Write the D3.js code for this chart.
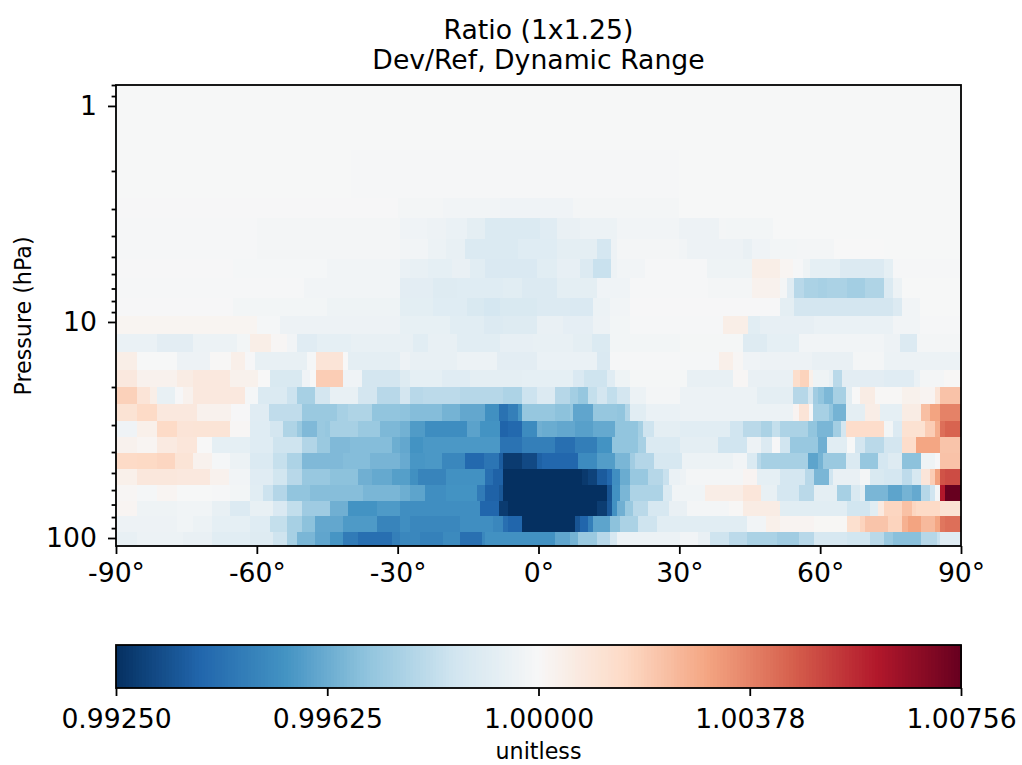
<!DOCTYPE html>
<html><head><meta charset="utf-8">
<script src="https://cdn.jsdelivr.net/npm/d3@7"></script>
<style>html,body{margin:0;background:#fff}svg{display:block}text{font-family:"DejaVu Sans";fill:#000}</style>
</head><body><svg id="c" width="1022" height="765"></svg>
<script>
// Titles and labels
const titleLines = ["Ratio (1x1.25)", "Dev/Ref, Dynamic Range"];
const yLabel = "Pressure (hPa)";
const cbLabel = "unitless";
const latTicks = [-90,-60,-30,0,30,60,90];
const pMajor = [1,10,100];
const pMinor = [0.8,0.9,2,3,4,5,6,7,8,9,20,30,40,50,60,70,80,90];
const cbTicks = [0.9925,0.99625,1.0,1.00378,1.00756];
const cbTickLabels = ["0.99250","0.99625","1.00000","1.00378","1.00756"];
const cmapStops = ["#053061","#2166ac","#4393c3","#92c5de","#d1e5f0","#f7f7f7","#fddbc7","#f4a582","#d6604d","#b2182b","#67001f"];
const vMin = 0.9925, vMid = 1.0, vMax = 1.00756;
// Pressure edges of the rows, top to bottom (hPa)
const pEdges = [0.8,1.6,2.67,3.30,4.13,5.11,6.26,7.74,9.38,11.36,13.77,16.68,20.0,23.97,28.7,34.1,40.4,47.9,56.8,67.4,79.1,93.8,108.9];
// Each row: [latitude where the run ends, (ratio-1)*1e5]
const row00 = [[90,-3]];
const row01 = [[-40,-3],[30,-6],[90,-3]];
const row02 = [[-30,-5],[-20.3,-15],[-8.2,-22],[7.4,-32],[30,-15],[90,-4]];
const row03 = [[-60,-6],[-29.5,-14],[-23.8,-30],[-19.6,-40],[-15.3,-50],[-11.4,-75],[0.3,-110],[3.9,-90],[8.9,-55],[16.7,-45],[30,-22],[38.5,-40],[40,-15],[50,-18],[90,-4]];
const row04 = [[-60,-6],[-29.5,-16],[-23.5,-22],[-19.6,-45],[-15.6,-60],[-4.3,-110],[3.9,-95],[12.4,-75],[15.4,-135],[16.7,-40],[30,-15],[31.6,-22],[43.6,-40],[45.4,-55],[49.3,-32],[55,-20],[63,-15],[73.5,0],[81.3,-2],[90,-4]];
const row05 = [[-65,-5],[-45,-10],[-29.5,-22],[-27.4,-50],[-23.5,-60],[-18.5,-70],[-14.6,-55],[-11.4,-85],[-0.4,-115],[3.9,-85],[8.9,-65],[11.7,-105],[15.4,-170],[16.7,-40],[22.7,-25],[35.8,-8],[45.4,-35],[51.5,50],[54.3,15],[56.4,-8],[57.9,-35],[64.2,-70],[73.5,-105],[75.6,-70],[90,-8]];
const row06 = [[-50,-6],[-29.5,-22],[-22.4,-80],[-17.4,-100],[-7.5,-95],[-3.6,-85],[3.9,-105],[12.4,-75],[19.5,-32],[36.2,-6],[45.4,-14],[51.5,30],[52.9,-15],[54.4,-90],[56.6,-210],[59.6,-240],[61.4,-250],[65.7,-240],[69.6,-260],[73.6,-230],[75.6,-110],[77.4,-45],[90,-4]];
const row07 = [[-65,-5],[-45,-18],[-29.5,-35],[-22.4,-78],[-15.3,-95],[-11.7,-120],[-8.2,-135],[-0.4,-120],[6.7,-105],[11.7,-115],[15.2,-45],[19.5,-22],[51.5,-5],[54.4,-75],[75.6,-140],[77.4,-105],[81.3,-22],[90,-4]];
const row08 = [[-60,18],[-55,-10],[-29.5,-40],[-18.8,-62],[-11.7,-85],[-7.5,-105],[-0.4,-100],[5.3,-55],[11.7,-72],[15.2,-38],[19.5,-20],[39.4,-8],[44.7,50],[47.2,-85],[58.6,-65],[75.6,-50],[81.3,-25],[90,-6]];
const row09 = [[-81.3,-50],[-73.5,-80],[-64.3,-45],[-61.5,-20],[-57,50],[-53.6,10],[-51.5,-25],[-47.2,-90],[-40,-70],[-29.5,-60],[-26.7,-60],[-23.5,-85],[-17.4,-60],[-8.2,-85],[-1.1,-65],[7.4,-60],[11.3,-75],[15.2,-110],[30.15,-20],[43.6,-12],[48.6,-100],[55.4,-70],[73.5,-25],[77,-40],[80.6,-105],[90,-15]];
const row10 = [[-85.6,50],[-77,-4],[-70,-40],[-65.4,5],[-62.5,45],[-60.4,-5],[-49.4,-60],[-47.4,-10],[-41.6,100],[-40.5,0],[-29.5,-75],[-27.4,-40],[-17.4,-60],[-8.9,-45],[-0.4,-80],[12.4,-50],[15.2,-115],[30.15,-8],[38.5,-10],[41.5,45],[43.6,10],[47.2,-30],[58.2,-38],[67,-55],[73.5,-15],[90,-45]];
const row11 = [[-85.6,80],[-77,30],[-73.5,60],[-65.7,80],[-59.7,35],[-57.2,0],[-50.4,-120],[-48.7,-30],[-47.4,0],[-41.6,190],[-37.7,-30],[-29.5,-140],[-27.4,-100],[-20.6,-70],[-14.6,-90],[-3.6,-75],[7.4,-70],[9.6,-115],[14.5,-155],[16.3,-90],[19.5,-35],[31.6,-12],[41.5,-60],[44.7,10],[54.3,-55],[55.6,135],[57.7,175],[58.4,40],[61.8,-35],[62.8,-60],[64.6,-205],[73.5,-80],[79.9,-90],[81.3,-50],[86.3,-15],[90,5]];
const row12 = [[-85.6,180],[-82.8,100],[-81.3,50],[-77.4,-60],[-75.7,-5],[-73.5,30],[-62.5,80],[-59.7,-10],[-53.6,-110],[-51.5,-160],[-47.6,-250],[-44.4,-140],[-38.4,-60],[-34.5,-140],[-29.5,-210],[-27.4,-140],[-24.5,-210],[-16.7,-200],[-7.5,-215],[-3.6,-235],[-0.4,-160],[3.5,-105],[6.7,-215],[8.5,-260],[10.6,-290],[12.4,-180],[14.5,-140],[16.7,-185],[19.5,-140],[23,-45],[30.15,-15],[46.5,-45],[54.3,-75],[57.5,-215],[58.4,-140],[59.6,-265],[60.8,-300],[62.7,-340],[65.5,-250],[66.7,-75],[68.5,0],[71.7,60],[77.4,5],[81.3,35],[84.5,20],[85.5,100],[90,220]];
const row13 = [[-85.6,110],[-81.3,150],[-72.8,80],[-65.4,30],[-61.5,-5],[-57.5,-90],[-50.4,-190],[-43,-280],[-40.5,-250],[-35.5,-230],[-29.5,-300],[-27.4,-305],[-20.6,-325],[-16.7,-355],[-11.4,-390],[-8.5,-460],[-6.4,-560],[-4.3,-515],[-3.6,-440],[3.5,-290],[6.7,-310],[7.4,-290],[11.7,-395],[16.7,-290],[18.4,-300],[19.5,-225],[23,-85],[30.15,-50],[54.3,-45],[55.4,20],[57.7,100],[58.4,-5],[61.8,-250],[62.7,-300],[65.5,-355],[69.6,-75],[72.8,55],[77.4,-70],[81.4,60],[83.4,230],[85.5,305],[90,380]];
const row14 = [[-85.6,-30],[-81.3,40],[-77.1,150],[-73.5,100],[-65.7,105],[-61.5,10],[-57.2,-95],[-54.4,-140],[-51.5,-230],[-50.4,-280],[-47.2,-335],[-45.5,-280],[-44.4,-290],[-38.4,-250],[-33.8,-280],[-29.5,-340],[-27.4,-360],[-24.2,-425],[-15.3,-470],[-12.5,-405],[-8.2,-450],[-6.4,-605],[-3.6,-590],[-0.4,-475],[0.7,-365],[3.9,-375],[7.8,-390],[11.7,-410],[16.3,-385],[21.3,-300],[22.3,-255],[24.5,-155],[30.15,-75],[40.8,-85],[43.6,-150],[47.5,-205],[49.7,-240],[51.5,-180],[53.6,-235],[57.5,-240],[59.3,-300],[62.8,-345],[64.5,-260],[65.5,-140],[73.5,140],[75.6,-20],[77.4,-105],[82.4,115],[84.5,190],[85.5,280],[86.6,420],[90,445]];
const row15 = [[-85.6,30],[-81.3,15],[-77.1,70],[-72.8,90],[-69.6,0],[-61.5,-70],[-56.5,-95],[-50.4,-155],[-47.2,-225],[-44.4,-280],[-40.1,-335],[-31.3,-325],[-29.5,-370],[-27.4,-390],[-24.5,-450],[-8.2,-435],[-3.6,-555],[3.5,-515],[7.8,-570],[12.4,-520],[15.6,-450],[21.3,-300],[23,-250],[30.15,-110],[38.3,-75],[44.4,-150],[47.5,-40],[49.7,-105],[51.5,-5],[53.6,-150],[59.6,-285],[61.4,-365],[65.7,-85],[67.4,-2],[69.6,-140],[73.5,-205],[77.4,-140],[80.4,140],[85.5,300],[90,215]];
const row16 = [[-85.6,150],[-81.3,155],[-77.4,165],[-73.5,105],[-69.6,30],[-65.7,-10],[-61.5,-45],[-56.5,-110],[-53.6,-175],[-50.4,-235],[-41.6,-335],[-35.9,-325],[-29.5,-350],[-27.4,-380],[-24.2,-440],[-20.6,-435],[-15.6,-490],[-11.7,-590],[-8.5,-550],[-7.5,-625],[-3.6,-720],[-0.4,-680],[0.7,-615],[8.5,-595],[12.4,-475],[16.3,-420],[19.5,-345],[20.6,-265],[24.5,-220],[30.5,-125],[41.5,-45],[44.4,-25],[46.6,-110],[47.5,-210],[57.5,-250],[59.6,-400],[60.7,-355],[65.5,-280],[68.5,-110],[72.4,-290],[74.5,-135],[77.4,-100],[81.4,-310],[84.5,-35],[85.5,-5],[90,220]];
const row17 = [[-85.6,40],[-77.1,85],[-70,80],[-66,30],[-61.5,-25],[-56.5,-90],[-53.6,-145],[-50.4,-210],[-44.4,-285],[-38.4,-310],[-35.5,-365],[-31.3,-385],[-27.4,-415],[-25.6,-460],[-19.6,-500],[-11.4,-455],[-9.6,-570],[-7.5,-610],[9.2,-750],[10.6,-725],[12.4,-700],[14.5,-630],[15.6,-590],[17.4,-465],[19.5,-375],[23.4,-285],[26.6,-215],[27.7,-170],[30.15,-50],[31.4,-40],[43.6,-15],[46.5,20],[51.5,-70],[56.8,-135],[58.6,-210],[61.8,-345],[62.8,-150],[68.5,-55],[70.6,-15],[73.5,-120],[77.4,-135],[79.5,-195],[81.4,-125],[83.4,95],[84.5,190],[85.5,310],[86.6,480],[90,495]];
const row18 = [[-85.6,10],[-81.3,-10],[-77.1,15],[-69.6,-2],[-65.7,-8],[-61.5,-18],[-58.6,-85],[-56.5,-160],[-53.6,-220],[-48.7,-300],[-37.3,-320],[-29.5,-345],[-27.4,-370],[-24.2,-400],[-19.6,-465],[-13.2,-450],[-11.4,-530],[-8.5,-610],[-7.5,-640],[14.5,-750],[15.6,-650],[17.4,-455],[19.5,-345],[26.6,-235],[28.4,-110],[35.5,-28],[43.6,55],[47.5,90],[50.7,-60],[55.4,-135],[58.6,-205],[63.5,-75],[66.5,-250],[68.5,-120],[69.6,-75],[74.5,-345],[77.4,-400],[79.5,-355],[81.4,-385],[83.4,-215],[84.5,-150],[85.5,-15],[86.6,605],[90,756]];
const row19 = [[-85.6,15],[-77.1,-35],[-69.6,-28],[-65.7,-60],[-61.5,-105],[-56.5,-60],[-53.6,-115],[-50.4,-185],[-44.4,-270],[-40.5,-365],[-34.5,-450],[-29.5,-430],[-12.5,-465],[-8.5,-600],[-6.4,-720],[12.4,-750],[14.5,-715],[15.6,-640],[16.7,-455],[18.4,-365],[20.2,-280],[23.4,-205],[27.7,-125],[31.6,-55],[40.5,-15],[43.6,5],[51.5,60],[65.7,-85],[70.6,-145],[72.4,-85],[73.5,70],[77.4,165],[79.5,225],[80.4,165],[85.5,150],[90,110]];
const row20 = [[-77.1,-40],[-73.5,-28],[-69.6,-45],[-61.5,-70],[-57.2,-95],[-53.6,-180],[-50.4,-250],[-47.6,-310],[-41.6,-390],[-34.5,-430],[-29.5,-500],[-27.4,-465],[-16.7,-490],[-9.6,-465],[-7.5,-490],[-6.4,-570],[-3.6,-600],[7.8,-750],[8.9,-650],[10.6,-600],[11.7,-515],[15.2,-400],[17.4,-310],[21.3,-240],[25.2,-155],[44.4,-85],[48.5,-25],[51.5,40],[58.6,20],[65.7,8],[68.5,125],[69.6,170],[74.5,215],[77.4,170],[78.8,270],[81.4,305],[84.5,245],[85.5,300],[86.6,405],[90,420]];
const row21 = [[-85.6,-60],[-75.7,-45],[-69.6,-55],[-61.5,-85],[-56.5,-100],[-53.6,-155],[-51.5,-250],[-47.6,-345],[-44.4,-395],[-41.6,-445],[-38.4,-530],[-31.3,-570],[-29.5,-515],[-25.2,-490],[-20.3,-510],[-16.7,-480],[-12.1,-565],[-11.4,-490],[3.5,-455],[6.7,-395],[8.5,-355],[12.4,-280],[15.2,-210],[16.7,-125],[30.15,-45],[34,-22],[36.5,-55],[40.5,-155],[44.4,-200],[50.7,-240],[55.4,-265],[58.6,-210],[65.7,-125],[70.6,-145],[73.5,-205],[75.6,-280],[81.4,-315],[84.8,-215],[85.5,-170],[90,-90]];
const rows = [row00,row01,row02,row03,row04,row05,row06,row07,row08,row09,row10,row11,row12,row13,row14,row15,row16,row17,row18,row19,row20,row21];

const svg = d3.select("#c");
const L=116,R=961,T=85,B=546, CT=645, CB=688;
const x = d3.scaleLinear().domain([-90,90]).range([L,R]);
const y = d3.scaleLog().domain([0.8,108.9]).range([T,B]);
const color = d3.scaleLinear()
  .domain(d3.range(11).map(i => i<=5 ? vMin+(vMid-vMin)*i/5 : vMid+(vMax-vMid)*(i-5)/5))
  .range(cmapStops).interpolate(d3.interpolateRgb);
const ratio = d => 1 + d*1e-5;

const cells = svg.append("g").attr("shape-rendering","crispEdges");
rows.forEach((row,i) => {
  let start = -90;
  row.forEach(([end,d]) => {
    cells.append("rect").attr("x",x(start)).attr("width",x(end)-x(start))
      .attr("y",y(pEdges[i])).attr("height",y(pEdges[i+1])-y(pEdges[i]))
      .attr("fill",color(ratio(d)));
    start = end;
  });
});

const fs = 26.67, sw = 1.8;
function styleAxis(g){
  g.select(".domain").remove();
  g.selectAll("line").attr("stroke","#000").attr("stroke-width",sw);
  g.selectAll("text").attr("font-size",fs).attr("font-family","DejaVu Sans").attr("fill","#000");
}
svg.append("g").attr("transform",`translate(0,${B})`)
  .call(d3.axisBottom(x).tickValues(latTicks).tickSize(8).tickPadding(9).tickFormat(d=>d+"°")).call(styleAxis);
svg.append("g").attr("transform",`translate(${L},0)`)
  .call(d3.axisLeft(y).tickValues(pMajor).tickSize(8).tickPadding(11).tickFormat(d=>d)).call(styleAxis);
svg.append("g").attr("transform",`translate(${L},0)`)
  .call(d3.axisLeft(y).tickValues(pMinor).tickSize(4.4).tickFormat("")).call(styleAxis);
svg.append("rect").attr("x",L).attr("y",T).attr("width",R-L).attr("height",B-T)
  .attr("fill","none").attr("stroke","#000").attr("stroke-width",sw);

// colour bar
const cx = d3.scaleLinear().domain([vMin,vMid,vMax]).range([L,(L+R)/2,R]);
const steps = d3.range(256);
const cg = svg.append("g").attr("shape-rendering","crispEdges");
steps.forEach(i => {
  const a = i<128 ? vMin+(vMid-vMin)*i/128 : vMid+(vMax-vMid)*(i-128)/128;
  const b = i<127 ? vMin+(vMid-vMin)*(i+1)/128 : vMid+(vMax-vMid)*(i+1-128)/128;
  cg.append("rect").attr("x",cx(a)).attr("width",cx(b)-cx(a)+1).attr("y",CT).attr("height",CB-CT).attr("fill",color((a+b)/2));
});
svg.append("g").attr("transform",`translate(0,${CB})`)
  .call(d3.axisBottom(cx).tickValues(cbTicks).tickSize(8).tickPadding(13).tickFormat((d,i)=>cbTickLabels[i])).call(styleAxis);
svg.append("rect").attr("x",L).attr("y",CT).attr("width",R-L).attr("height",CB-CT)
  .attr("fill","none").attr("stroke","#000").attr("stroke-width",sw);

// text
titleLines.forEach((t,i)=> svg.append("text").attr("x",(L+R)/2).attr("y",39+i*30).attr("text-anchor","middle").attr("font-size",26.67).text(t));
svg.append("text").attr("transform","translate(31,316) rotate(-90)").attr("text-anchor","middle").attr("font-size",22.2).text(yLabel);
svg.append("text").attr("x",(L+R)/2).attr("y",759).attr("text-anchor","middle").attr("font-size",22.2).text(cbLabel);
</script></body></html>
